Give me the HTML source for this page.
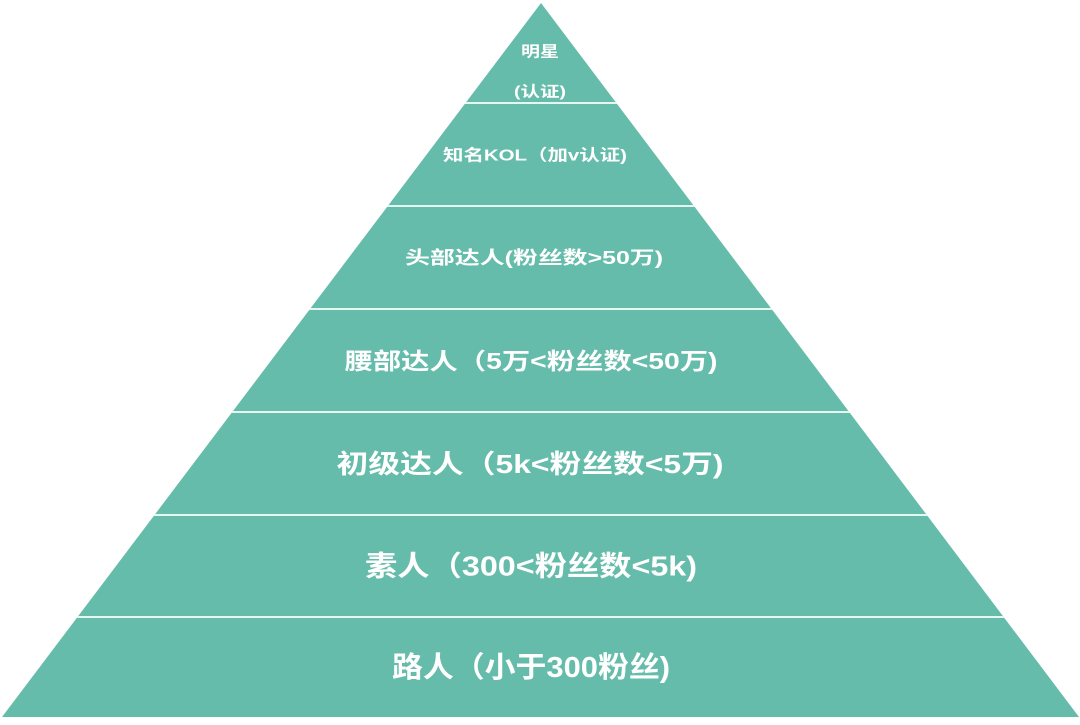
<!DOCTYPE html>
<html><head><meta charset="utf-8"><style>
html,body{margin:0;padding:0;background:#fff;}
svg text{font-family:"Liberation Sans","Noto Sans CJK SC",sans-serif;font-weight:bold;fill:#fff;text-anchor:middle;dominant-baseline:central;}
</style></head><body>
<svg width="1080" height="720" viewBox="0 0 1080 720" xmlns="http://www.w3.org/2000/svg">
<defs><clipPath id="c"><polygon points="541,3 2,717 1079,717"/></clipPath></defs>
<polygon points="541,3 2,717 1079,717" fill="#66bcaa"/>
<g clip-path="url(#c)" stroke="#e6f7f2" stroke-width="2">
<line x1="0" y1="103" x2="1080" y2="103"/>
<line x1="0" y1="206" x2="1080" y2="206"/>
<line x1="0" y1="309" x2="1080" y2="309"/>
<line x1="0" y1="412" x2="1080" y2="412"/>
<line x1="0" y1="515" x2="1080" y2="515"/>
<line x1="0" y1="617" x2="1080" y2="617"/>
</g>
<text x="540" y="52" font-size="15" textLength="38" lengthAdjust="spacingAndGlyphs">明星</text>
<text x="540" y="92" font-size="15" textLength="52" lengthAdjust="spacingAndGlyphs">(认证)</text>
<text x="535" y="156" font-size="16" textLength="184" lengthAdjust="spacingAndGlyphs">知名KOL（加v认证)</text>
<text x="534" y="258" font-size="18" textLength="258" lengthAdjust="spacingAndGlyphs">头部达人(粉丝数&gt;50万)</text>
<text x="531" y="361" font-size="23" textLength="373" lengthAdjust="spacingAndGlyphs">腰部达人（5万&lt;粉丝数&lt;50万)</text>
<text x="530" y="464" font-size="26" textLength="387" lengthAdjust="spacingAndGlyphs">初级达人（5k&lt;粉丝数&lt;5万)</text>
<text x="531" y="566" font-size="28" textLength="332" lengthAdjust="spacingAndGlyphs">素人（300&lt;粉丝数&lt;5k)</text>
<text x="531" y="668" font-size="29" textLength="278" lengthAdjust="spacingAndGlyphs">路人（小于300粉丝)</text>
</svg>
</body></html>
